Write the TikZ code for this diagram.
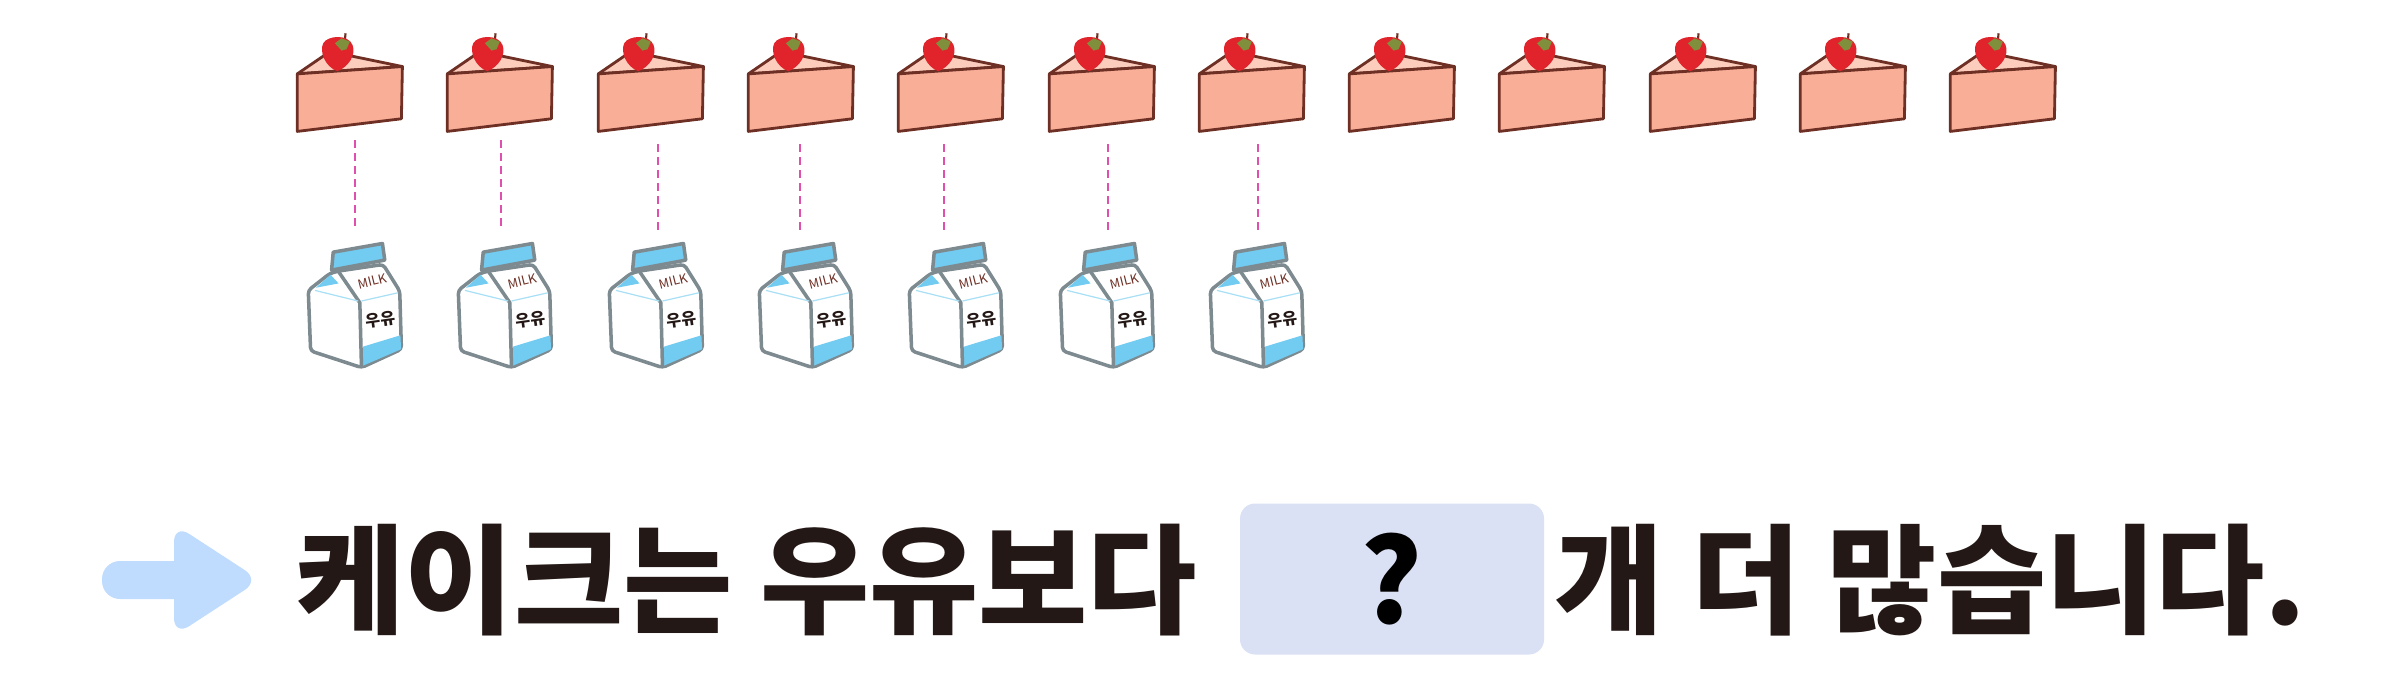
\documentclass[tikz,border=0pt]{standalone}
\usepackage{fontspec}
\setmainfont{Noto Sans CJK KR}
\definecolor{cakeline}{HTML}{6E2F24}
\definecolor{cakeside}{HTML}{F9AE98}
\definecolor{caketop}{HTML}{FCCDBD}
\definecolor{berry}{HTML}{E1242B}
\definecolor{leaf}{HTML}{7F8F3C}
\definecolor{milkline}{HTML}{7D8A90}
\definecolor{milkblue}{HTML}{72CBF0}
\definecolor{pairpink}{HTML}{DE4FAE}
\definecolor{textdark}{HTML}{231815}
\definecolor{arrowblue}{HTML}{BFDBFE}
\definecolor{boxblue}{HTML}{DAE1F5}
\tikzset{
  cakeface/.style={draw=cakeline,line width=0.8pt,line join=round,fill=cakeside},
  milkface/.style={draw=milkline,line width=1pt,line join=round,fill=white},
  milkcap/.style={draw=milkline,line width=1pt,line join=round,fill=milkblue},
  pairline/.style={draw=pairpink,line width=0.65pt,dash pattern=on 0.08cm off 0.05cm},
  sentence/.style={font=\fontsize{33.8pt}{33.8pt}\selectfont\bfseries,text=textdark,inner sep=0,anchor=base west},
  cake/.pic={
    \begin{scope}[x=0.00333cm,y=-0.00333cm]
      \draw[cakeface,fill=caketop] (52,192) -- (150,125) -- (368,170) -- cycle;
      \draw[cakeface] (52,192) -- (368,170) -- (365,327) -- (52,365) -- cycle;
      \draw[cakeline,line width=0.6pt] (197,70) -- (195,92);
      \fill[berry] (172,184) .. controls (135,170) and (118,125) .. (130,100)
        .. controls (143,76) and (205,72) .. (218,105)
        .. controls (230,135) and (205,172) .. (172,184) -- cycle;
      \fill[leaf] (165,100) -- (185,85) -- (210,95) -- (200,118) -- (185,122) -- cycle;
    \end{scope}
  },
  milk/.pic={
    \begin{scope}[x=0.00333cm,y=-0.00333cm]
      \draw[milkcap] (160,728) -- (308,702) -- (315,752) -- (155,782) -- cycle;
      \draw[milkface,rounded corners=1pt] (85,843) -- (150,792) -- (175,785) -- (310,765) -- (360,845)
        -- (365,1020) -- (245,1075) -- (92,1025) -- cycle;
      \fill[milkblue] (108,835) -- (152,796) -- (176,822) -- cycle;
      \fill[milkblue] (250,1012) -- (362,978) -- (364,1020) -- (248,1070) -- cycle;
      \draw[milkline,line width=1pt,line join=round] (175,785) -- (240,880) -- (245,1075);
      \draw[milkblue!60!white,line width=0.35pt] (105,843) -- (235,875);
      \draw[milkblue!60!white,line width=0.35pt] (245,875) -- (355,850);
      \node (-mk) at (277,815) [rotate=14,inner sep=0,text=cakeline,font=\fontsize{3.6pt}{3.6pt}\selectfont]{MILK};
      \node (-uy) at (303,932) [rotate=8,inner sep=0,text=textdark,font=\fontsize{4.6pt}{4.6pt}\selectfont\bfseries]{우유};
    \end{scope}
  }
}
\begin{document}
\begin{tikzpicture}
  \useasboundingbox (0,0) rectangle (24,6.8);

  \pic (c1) at (2.80,6.70) {cake};
  \pic (c2) at (4.30,6.70) {cake};
  \pic (c3) at (5.81,6.70) {cake};
  \pic (c4) at (7.31,6.70) {cake};
  \pic (c5) at (8.81,6.70) {cake};
  \pic (c6) at (10.32,6.70) {cake};
  \pic (c7) at (11.82,6.70) {cake};
  \pic (c8) at (13.32,6.70) {cake};
  \pic (c9) at (14.82,6.70) {cake};
  \pic (c10) at (16.33,6.70) {cake};
  \pic (c11) at (17.83,6.70) {cake};
  \pic (c12) at (19.33,6.70) {cake};

  \pic (m1) at (2.80,6.70) {milk};
  \pic (m2) at (4.30,6.70) {milk};
  \pic (m3) at (5.81,6.70) {milk};
  \pic (m4) at (7.31,6.70) {milk};
  \pic (m5) at (8.81,6.70) {milk};
  \pic (m6) at (10.32,6.70) {milk};
  \pic (m7) at (11.82,6.70) {milk};

  \coordinate (a1) at (3.55,5.40);
  \coordinate (b1) at (3.55,4.50);
  \coordinate (a2) at (5.01,5.40);
  \coordinate (b2) at (5.01,4.50);
  \coordinate (a3) at (6.58,5.36);
  \coordinate (b3) at (6.58,4.46);
  \coordinate (a4) at (8.00,5.36);
  \coordinate (b4) at (8.00,4.46);
  \coordinate (a5) at (9.44,5.36);
  \coordinate (b5) at (9.44,4.46);
  \coordinate (a6) at (11.08,5.36);
  \coordinate (b6) at (11.08,4.46);
  \coordinate (a7) at (12.58,5.36);
  \coordinate (b7) at (12.58,4.46);

  \draw[pairline] (a1) -- (b1);
  \draw[pairline] (a2) -- (b2);
  \draw[pairline] (a3) -- (b3);
  \draw[pairline] (a4) -- (b4);
  \draw[pairline] (a5) -- (b5);
  \draw[pairline] (a6) -- (b6);
  \draw[pairline] (a7) -- (b7);

  % answer line
  \fill[arrowblue,rounded corners=0.18cm] (1.02,1.19) [sharp corners] -- (1.74,1.19) [rounded corners=0.18cm] -- (1.74,1.56)
    -- (2.60,1.00) -- (1.74,0.44) [sharp corners] -- (1.74,0.81) [rounded corners=0.18cm] -- (1.02,0.81) -- cycle;
  \node (sa) at (2.95,0.56) [sentence]{케이크는 우유보다};
  \node (qbox) at (13.92,1.01) [fill=boxblue,rounded corners=0.15cm,minimum width=3.04cm,minimum height=1.51cm,inner sep=0,font=\fontsize{33pt}{33pt}\selectfont\bfseries]{?};
  \node (sb) at (15.54,0.56) [sentence]{개 더 많습니다.};
\end{tikzpicture}
\end{document}
